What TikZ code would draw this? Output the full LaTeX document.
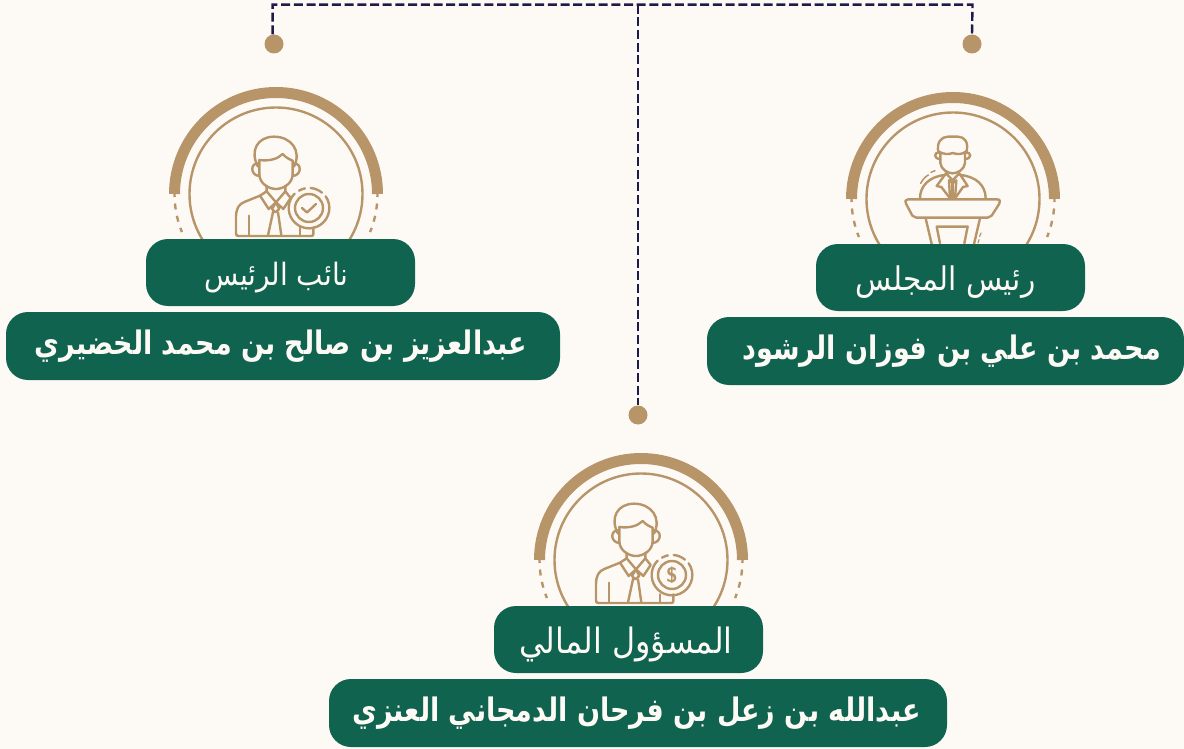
\documentclass[tikz,border=0pt]{standalone}
\usepackage{fontspec}
\TeXXeTstate=1
\newfontfamily\arabicfont[Script=Arabic]{DejaVu Sans}
\definecolor{pagebg}{HTML}{FDFAF6}
\definecolor{tan}{HTML}{B89569}
\definecolor{boxgreen}{HTML}{10634F}
\definecolor{navy}{HTML}{1E1B4B}
\newcommand\fsz[1]{\fontsize{#1}{#1}\selectfont}
\newcommand\dropfive[1]{\raisebox{-2.5pt}[\dimexpr\height+2.5pt\relax][\dimexpr\depth-2.5pt\relax]{#1}}
\tikzset{
  iconline/.style={draw=tan,line width=2.4pt,line cap=round,line join=round},
  conn/.style={draw=navy,line width=2.4pt,dash pattern=on 9pt off 3.7pt},
  dotnode/.style={circle,fill=tan,minimum size=19pt,inner sep=0pt},
  titlebox/.style={rectangle,rounded corners=22pt,fill=boxgreen,text=pagebg,minimum width=269pt,minimum height=67pt,inner sep=0pt,font=\arabicfont},
  namebox/.style={rectangle,rounded corners=22pt,fill=boxgreen,text=pagebg,minimum height=68pt,inner sep=0pt,font=\arabicfont\bfseries\fsz{27}},
  pics/halo/.style={code={
    \draw[tan,line width=11pt] (-101.5,0) arc[start angle=180,end angle=360,radius=101.5];
    \draw[tan,line width=2.4pt] (0,0) circle[radius=86.5];
    \draw[tan,line width=2.4pt,dash pattern=on 6pt off 6.5pt,dash phase=3pt] (-101.5,0) arc[start angle=180,end angle=158,radius=101.5];
    \draw[tan,line width=2.4pt,dash pattern=on 6pt off 6.5pt,dash phase=3pt] (101.5,0) arc[start angle=0,end angle=22,radius=101.5];
  }},
  pics/person/.style={code={
    \begin{scope}[x=0.3333pt,y=0.3333pt,yscale=-1,iconline]
    \draw (-54,-82) .. controls (-80,-130) and (-55,-172) .. (-6,-172) .. controls (45,-172) and (78,-130) .. (54,-82);
    \draw (-50,-102) .. controls (-20,-98) and (5,-105) .. (20,-120) .. controls (30,-108) and (45,-102) .. (50,-100);
    \draw (-50,-102) -- (-50,-60) .. controls (-50,-30) and (-20,-15) .. (0,-15) .. controls (20,-15) and (50,-30) .. (50,-60) -- (50,-100);
    \draw (-52,-92) .. controls (-78,-94) and (-78,-56) .. (-50,-54);
    \draw (52,-92) .. controls (78,-94) and (78,-56) .. (50,-54);
    \draw (-28,-25) -- (-28,-8) -- (-48,5) -- (-22,45) -- (0,25) -- (22,45) -- (44,12) -- (28,-8) -- (28,-25);
    \draw (-28,-8) -- (0,25) -- (28,-8);
    \draw (-12,45) -- (0,25) -- (10,45) -- (-2,55) -- cycle;
    \draw (-8,50) -- (-24,124);
    \draw (6,55) -- (16,124);
    \draw (-48,5) -- (-95,24) .. controls (-112,30) and (-120,45) .. (-120,70) -- (-120,118) .. controls (-120,124) and (-118,126) .. (-112,126) -- (106,126) .. controls (110,126) and (112,124) .. (112,120) -- (112,100);
    \draw (-81,65) -- (-81,124);
    \draw (72,100) -- (72,124);
    \end{scope}
  }},
  pics/lectern/.style={code={
    \begin{scope}[x=0.3333pt,y=0.3333pt,yscale=-1,iconline]
    \draw (-44,-140) .. controls (-50,-170) and (-35,-187) .. (-15,-187) -- (15,-187) .. controls (35,-187) and (48,-170) .. (40,-140);
    \draw (-44,-143) .. controls (-25,-132) and (-12,-134) .. (-1,-138) .. controls (12,-134) and (25,-132) .. (40,-143);
    \draw (-38,-140) -- (-38,-108) .. controls (-36,-88) and (-15,-77) .. (-1,-77) .. controls (13,-77) and (34,-88) .. (36,-108) -- (36,-140);
    \draw (-42,-140) .. controls (-58,-140) and (-58,-120) .. (-38,-120);
    \draw (40,-140) .. controls (56,-140) and (56,-120) .. (36,-120);
    \draw (-99,-2) .. controls (-99,-40) and (-70,-68) .. (-24,-72);
    \draw (98,-2) .. controls (98,-40) and (70,-68) .. (21,-72);
    \draw (-21,-77) -- (-49,-39) -- (-35,-36) -- (-9,-2);
    \draw (19,-77) -- (44,-39) -- (30,-36) -- (6,-2);
    \draw (-21,-77) -- (-1,-56) -- (19,-77);
    \draw (-12,-56) -- (-1,-48) -- (10,-56) -- (6,-2);
    \draw (-12,-56) -- (-9,-2);
    \draw (-1,-48) -- (-1,-2);
    \draw[line width=1.5pt] (-97,-47) .. controls (-90,-60) and (-82,-68) .. (-74,-72);
    \draw[line width=1.5pt] (-66,-80) -- (-54,-85);
    \draw (-135,1) -- (132,1) .. controls (141,1) and (143,8) .. (139,14) -- (116,50) .. controls (112,55) and (110,56) .. (104,56) -- (-110,56) .. controls (-116,56) and (-118,54) .. (-122,50) -- (-141,14) .. controls (-146,8) and (-143,1) .. (-135,1);
    \draw (-82,58) -- (-64,135);
    \draw (81,58) -- (63,135);
    \draw (-39,133) -- (-49,83) -- (44,83) -- (34,133);
    \draw[line width=1.2pt] (84,102) -- (80,112);
    \draw[line width=1.2pt] (78,122) -- (75,132);
    \end{scope}
  }},
  pics/ringbadge/.style={code={
    \begin{scope}[x=0.3333pt,y=0.3333pt,yscale=-1,iconline]
    \draw[fill=pagebg] (0,0) circle[radius=42];
    \draw (50,-35) arc[start angle=-35,end angle=225,radius=61];
    \draw (-30,-52) arc[start angle=240,end angle=258,radius=61];
    \draw (5,-60) arc[start angle=275,end angle=310,radius=61];
    \end{scope}
  }}
}
\begin{document}
\begin{tikzpicture}[x=1pt,y=-1pt]
\useasboundingbox (0,0) rectangle (1184,749);
\fill[pagebg] (0,0) rectangle (1184,749);

% dots and connectors
\node[dotnode] (dotL) at (274,44) {};
\node[dotnode] (dotR) at (972,44) {};
\node[dotnode] (dotM) at (638,415) {};
\coordinate (cornerL) at (272.6,4.7);
\coordinate (cornerR) at (972.5,4.7);
\coordinate (junction) at (637.7,4.7);
\draw[conn] (cornerL |- dotL.north) -- (cornerL) -- (cornerR) -- (dotR.north);
\draw[conn] (junction) -- (junction |- dotM.north);

% icons
\pic at (953,199) {halo};
\pic at (276,194) {halo};
\pic at (641,560) {halo};
\pic at (953,199) {lectern};
\pic at (276,194) {person};
\pic at (636,561) {person};
\pic at (309,208) {ringbadge};
\path[iconline,draw=tan] (302,208) -- (307,212.5) -- (316,204);
\pic at (672,575) {ringbadge};
\node[text=tan,inner sep=0pt,font=\sffamily\bfseries\fsz{21}] (coinsign) at (672,575) {\$};

% boxes
\node[titlebox,font=\arabicfont\fsz{29.6}] (titleR) at (950.5,277.5) {\dropfive{\scalebox{1}[1.1]{\beginR رئيس المجلس\endR}}\hspace*{10pt}};
\node[namebox,minimum width=477pt] (nameR) at (945.5,351) {\hspace*{12pt}\scalebox{1}[1.2]{\beginR محمد بن علي بن فوزان الرشود\endR}};
\node[titlebox,font=\arabicfont\fsz{28}] (titleL) at (280.5,272.5) {\dropfive{\scalebox{1}[1.1]{\beginR نائب الرئيس\endR}}\hspace*{8pt}};
\node[namebox,minimum width=554pt] (nameL) at (283,346) {\scalebox{1}[1.2]{\beginR عبدالعزيز بن صالح بن محمد الخضيري\endR}\hspace*{4pt}};
\node[titlebox,font=\arabicfont\fsz{31.8}] (titleM) at (628.5,639.5) {\dropfive{\scalebox{1}[1.1]{\beginR المسؤول المالي\endR}}\hspace*{5pt}};
\node[namebox,minimum width=618pt] (nameM) at (638,713) {\scalebox{1}[1.2]{\beginR عبدالله بن زعل بن فرحان الدمجاني العنزي\endR}\hspace*{3pt}};
\end{tikzpicture}
\end{document}
